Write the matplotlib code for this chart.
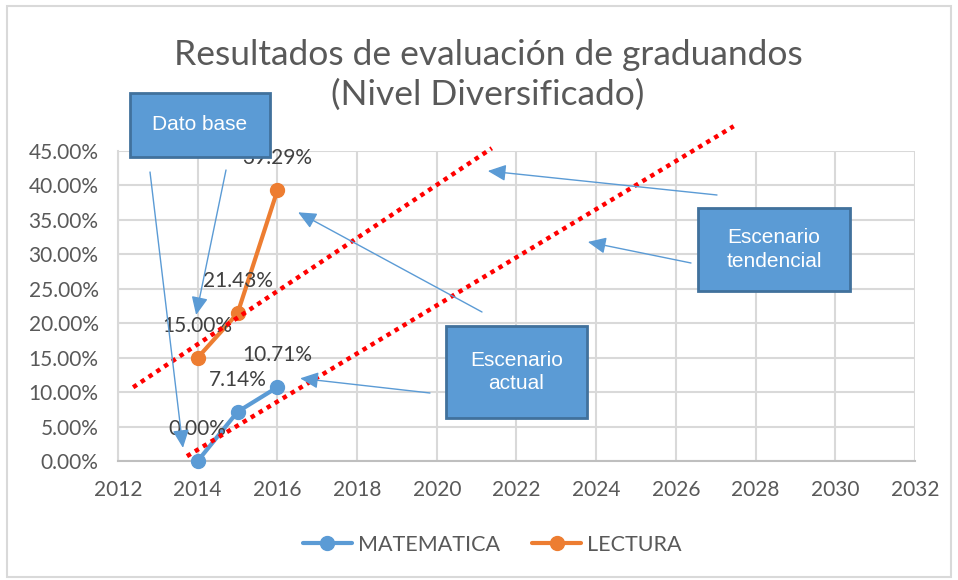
import matplotlib
matplotlib.use("Agg")
import matplotlib.pyplot as plt
from matplotlib.ticker import FuncFormatter, MultipleLocator
from matplotlib.patches import Rectangle

# ---- data ----
years = [2014, 2015, 2016]
matematica = [0.0, 0.0714, 0.1071]
lectura = [0.15, 0.2143, 0.3929]
series_names = ["MATEMATICA", "LECTURA"]
title_text = "Resultados de evaluación de graduandos\n(Nivel Diversificado)"

# trend (scenario) lines drawn as red dotted segments, data coords
trend_actual_x = [2012.38, 2021.38]
trend_actual_y = [0.107, 0.454]
trend_tend_x = [2013.73, 2027.45]
trend_tend_y = [0.007, 0.486]

BLUE = "#5B9BD5"
ORANGE = "#ED7D31"
GRAY = "#595959"
GRID = "#D9D9D9"
FONT = ["Lato", "DejaVu Sans"]
BOXFONT = ["Liberation Sans Narrow", "Liberation Sans", "DejaVu Sans"]

W, H = 958, 580
fig = plt.figure(figsize=(W / 100, H / 100), dpi=100)
plt.rcParams["font.family"] = FONT

ax = fig.add_axes([118 / W, 1 - 461 / H, (915 - 118) / W, (461 - 151) / H])
ax.set_xlim(2012, 2032)
ax.set_ylim(0, 0.45)
ax.xaxis.set_major_locator(MultipleLocator(2))
ax.yaxis.set_major_locator(MultipleLocator(0.05))
ax.yaxis.set_major_formatter(FuncFormatter(lambda v, p: f"{v*100:.2f}%"))
ax.grid(True, color=GRID, lw=1.5, zorder=0)
ax.set_axisbelow(True)
for s in ["top", "right"]:
    ax.spines[s].set_visible(False)
ax.spines["left"].set_color(GRID)
ax.spines["left"].set_linewidth(1.5)
ax.spines["bottom"].set_color("#BFBFBF")
ax.spines["bottom"].set_linewidth(1.5)
ax.tick_params(length=0, labelsize=15, labelcolor=GRAY)
ax.tick_params(axis="y", pad=14)
ax.tick_params(axis="x", pad=14)

for vals, col, name in [(matematica, BLUE, series_names[0]), (lectura, ORANGE, series_names[1])]:
    ax.plot(years, vals, color=col, lw=3, marker="o", ms=10, label=name, zorder=4,
            solid_capstyle="round", clip_on=False)
    for x, y in zip(years, vals):
        ax.annotate(f"{y*100:.2f}%", (x, y), xytext=(0, 23), textcoords="offset points",
                    ha="center", va="center", fontsize=15, color="#404040", zorder=5)

# red dotted scenario lines
for tx, ty in [(trend_actual_x, trend_actual_y), (trend_tend_x, trend_tend_y)]:
    ax.plot(tx, ty, color="#FF0000", lw=3.2, linestyle=(0, (1, 1.1)), clip_on=False, zorder=6)

# legend
leg = fig.legend(loc="center", bbox_to_anchor=(492 / W, 1 - 545 / H), ncol=2, frameon=False,
                 fontsize=15.5, handlelength=2.3, columnspacing=1.5, handletextpad=0.25)
for t in leg.get_texts():
    t.set_color(GRAY)

# title
fig.text(488 / W, 1 - 75 / H, title_text, ha="center", va="center", fontsize=25.5,
         color=GRAY, linespacing=1.3)

# callout boxes (figure pixels, top-left origin)
boxes = [
    ("Dato base", 130, 93, 270, 157),
    ("Escenario\nactual", 446, 326, 587, 418),
    ("Escenario\ntendencial", 698, 208, 850, 291),
]
arrows = [
    # tail (fig px), tip (data)
    ((150, 172), (2013.63, 0.019)),
    ((226, 170), (2013.96, 0.212)),
    ((430, 393), (2016.57, 0.120)),
    ((482, 312), (2016.52, 0.361)),
    ((717, 195), (2021.28, 0.421)),
    ((691, 263), (2023.79, 0.318)),
]
for (tx, ty), (dx, dy) in arrows:
    ax.annotate("", xy=(dx, dy), xycoords="data", xytext=(tx, H - ty), textcoords="figure pixels",
                arrowprops=dict(arrowstyle="-|>,head_length=1.1,head_width=0.5", color=BLUE,
                                lw=1.0, mutation_scale=10, shrinkA=0, shrinkB=0),
                annotation_clip=False, zorder=7)

for txt, x0, y0, x1, y1 in boxes:
    r = Rectangle((x0 / W, 1 - y1 / H), (x1 - x0) / W, (y1 - y0) / H, transform=fig.transFigure,
                  facecolor=BLUE, edgecolor="#41719C", lw=2, zorder=8)
    fig.add_artist(r)
    fig.text((x0 + x1) / 2 / W, 1 - (y0 + y1) / 2 / H, txt, ha="center", va="center",
             color="white", fontsize=15, family=BOXFONT, linespacing=1.3, zorder=9)

# outer chart border
fig.add_artist(Rectangle((7 / W, 3 / H), (951 - 7) / W, (574 - 3) / H, transform=fig.transFigure,
                         fill=False, edgecolor=GRID, lw=1.5))

fig.savefig("out.png", dpi=100)
